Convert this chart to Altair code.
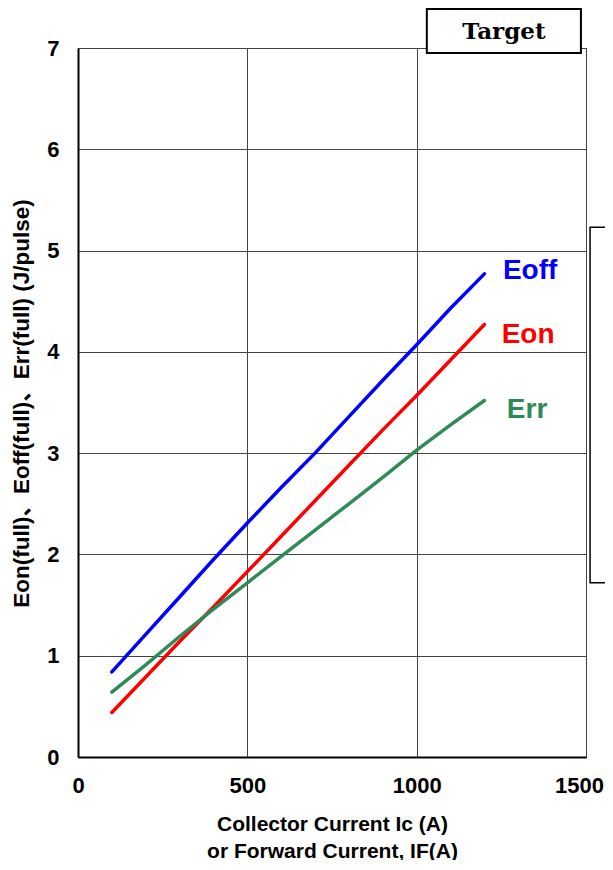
import altair as alt
import pandas as pd

# ---- data ----
current = [100, 200, 300, 400, 500, 600, 700, 800, 900, 1000, 1100, 1200]
eon = [0.44, 0.79, 1.14, 1.48, 1.83, 2.18, 2.53, 2.88, 3.23, 3.57, 3.92, 4.27]
eoff = [0.84, 1.21, 1.58, 1.95, 2.31, 2.66, 3.00, 3.36, 3.72, 4.07, 4.43, 4.77]
err = [0.64, 0.91, 1.19, 1.46, 1.72, 1.98, 2.24, 2.50, 2.76, 3.03, 3.28, 3.52]

series_names = ["Eoff", "Eon", "Err"]
line_colors = ["#0000ff", "#ff0000", "#2e8b57"]
label_colors = ["#0000ff", "#ff0000", "#168016"]
label_x = [1335, 1329, 1326]
label_y = [4.8, 4.17, 3.43]

x_ticks = [0, 500, 1000, 1500]
y_ticks = [0, 1, 2, 3, 4, 5, 6, 7]

x_title = ["Collector Current Ic (A)", "or Forward Current, IF(A)"]
y_title = "Eon(full)、Eoff(full)、Err(full) (J/pulse)"

# annotation boxes (data coordinates)
target_box = {"x": [1030], "x2": [1485], "y": [6.95], "y2": [7.385], "text": ["Target"]}
side_box = {"x": [1512], "x2": [1620], "y": [1.72], "y2": [5.23]}

rows = []
for name, vals in zip(["Eoff", "Eon", "Err"], [eoff, eon, err]):
    for c, v in zip(current, vals):
        rows.append({"current": c, "energy": v, "series": name})
df = pd.DataFrame(rows)

labels_df = pd.DataFrame({"series": series_names, "x": label_x, "y": label_y})

FONT = "Liberation Sans, Arial, Noto Sans CJK JP, sans-serif"

xscale = alt.Scale(domain=[0, 1500], nice=False, zero=False)
yscale = alt.Scale(domain=[0, 7], nice=False, zero=False)

lines = alt.Chart(df).mark_line(strokeWidth=3.5, strokeCap="round", strokeJoin="round").encode(
    x=alt.X("current:Q", scale=xscale,
            axis=alt.Axis(values=x_ticks, format="d", title=x_title, labelFlush=False,
                          labelOffset=alt.condition("datum.value == 1500", alt.value(-7), alt.value(0)),
                          labelPadding=18, titlePadding=17, ticks=False,
                          domainColor="#000", domainWidth=2,
                          gridColor="#444", gridWidth=1)),
    y=alt.Y("energy:Q", scale=yscale,
            axis=alt.Axis(values=y_ticks, format="d", title=y_title, labelPadding=19,
                          titleX=-57, titleY=355, titleAngle=270,
                          titleAlign="center", titleBaseline="middle", ticks=False,
                          domainColor="#000", domainWidth=2,
                          gridColor="#444", gridWidth=1)),
    color=alt.Color("series:N", scale=alt.Scale(domain=series_names, range=line_colors), legend=None),
    detail="series:N",
)

labels = alt.Chart(labels_df).mark_text(fontSize=28, fontWeight="bold", font=FONT,
                                        align="center", baseline="middle", clip=False).encode(
    x=alt.X("x:Q", scale=xscale),
    y=alt.Y("y:Q", scale=yscale),
    text="series:N",
    color=alt.Color("series:N", scale=alt.Scale(domain=series_names, range=label_colors), legend=None),
)

tb = pd.DataFrame(target_box)
target_rect = alt.Chart(tb).mark_rect(fill="white", stroke="#000", strokeWidth=2, clip=False).encode(
    x=alt.X("x:Q", scale=xscale), x2="x2:Q",
    y=alt.Y("y:Q", scale=yscale), y2="y2:Q",
)
target_text = alt.Chart(tb).transform_calculate(
    xm="(datum.x + datum.x2) / 2", ym="(datum.y + datum.y2) / 2"
).mark_text(font="DejaVu Serif", fontWeight="bold", fontSize=23, color="#000",
            align="center", baseline="middle", clip=False, dy=1).encode(
    x=alt.X("xm:Q", scale=xscale),
    y=alt.Y("ym:Q", scale=yscale),
    text="text:N",
)

sb = pd.DataFrame(side_box)
side_rect = alt.Chart(sb).mark_rect(fill="white", stroke="#000", strokeWidth=1.5, clip=False).encode(
    x=alt.X("x:Q", scale=xscale), x2="x2:Q",
    y=alt.Y("y:Q", scale=yscale), y2="y2:Q",
)

chart = alt.layer(lines, labels, target_rect, target_text, side_rect).properties(
    width=508, height=709,
    autosize=alt.AutoSizeParams(type="none"),
    padding={"left": 70, "top": 40, "right": 19, "bottom": 103},
    background="white",
).configure_view(
    stroke="#222", strokeWidth=1,
).configure_axis(
    labelFont=FONT, labelFontSize=22, labelFontWeight="bold", labelColor="#000",
    titleFont=FONT, titleFontSize=21, titleFontWeight="bold", titleColor="#000",
    titleLineHeight=27,
).configure_axisY(
    titleFontSize=22.5,
)

chart.save("out.html", embed_options={"renderer": "svg", "actions": False})
